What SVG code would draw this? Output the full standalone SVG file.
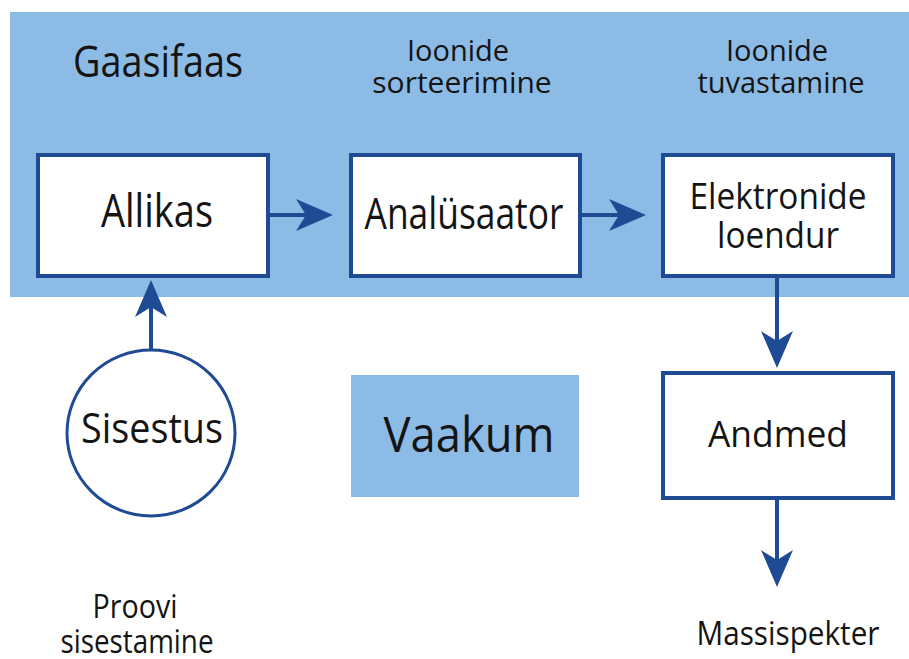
<svg xmlns="http://www.w3.org/2000/svg" width="909" height="659" viewBox="0 0 909 659">
<style>
.box{fill:#fff;stroke:#1f4a94;stroke-width:4}
.conn{fill:none;stroke:#1f4a94;stroke-width:4}
text{font-family:"Open Sans","Noto Sans","Liberation Sans",sans-serif;fill:#141414;text-anchor:middle}
.n{lengthAdjust:spacingAndGlyphs}
</style>
<defs>
<marker id="ah" viewBox="-40 -20 42 40" refX="-20" refY="0" markerWidth="42" markerHeight="40" markerUnits="userSpaceOnUse" orient="auto">
<path d="M0,0 L-37,-16 L-27,0 L-37,16 Z" fill="#1f4a94"/>
</marker>
</defs>
<rect width="909" height="659" fill="#fff"/>
<g id="gaasifaas">
<rect x="10" y="12" width="899" height="285" fill="#8cbbe6"/>
<text x="158" y="77" font-size="44" textLength="170" lengthAdjust="spacingAndGlyphs">Gaasifaas</text>
<text x="458" y="61" font-size="29">Ioonide</text>
<text x="462" y="93" font-size="30">sorteerimine</text>
<text x="777" y="61" font-size="29">Ioonide</text>
<text x="781" y="93" font-size="29">tuvastamine</text>
</g>
<g id="allikas">
<rect class="box" x="38" y="155" width="230" height="121"/>
<text x="157" y="227" font-size="45" textLength="112" lengthAdjust="spacingAndGlyphs">Allikas</text>
</g>
<g id="analusaator">
<rect class="box" x="351" y="155" width="229" height="121"/>
<text x="464" y="229" font-size="44" textLength="199" lengthAdjust="spacingAndGlyphs">Analüsaator</text>
</g>
<g id="elektronide">
<rect class="box" x="663" y="155" width="230" height="121"/>
<text x="778" y="209" font-size="36" textLength="177" lengthAdjust="spacingAndGlyphs">Elektronide</text>
<text x="778" y="248" font-size="36" textLength="122" lengthAdjust="spacingAndGlyphs">loendur</text>
</g>
<g id="sisestus">
<ellipse cx="151" cy="433" rx="84" ry="83" fill="#fff" stroke="#1f4a94" stroke-width="3"/>
<text x="152" y="443" font-size="42" textLength="142" lengthAdjust="spacingAndGlyphs">Sisestus</text>
</g>
<g id="vaakum">
<rect x="351" y="375" width="228" height="122" fill="#8cbbe6"/>
<text x="469" y="452" font-size="49" textLength="171" lengthAdjust="spacingAndGlyphs">Vaakum</text>
</g>
<g id="andmed">
<rect class="box" x="663" y="373" width="230" height="125"/>
<text x="778" y="447" font-size="37" textLength="140" lengthAdjust="spacingAndGlyphs">Andmed</text>
</g>
<g id="proovi">
<text x="135" y="618" font-size="32" textLength="85" lengthAdjust="spacingAndGlyphs">Proovi</text>
<text x="137" y="653" font-size="32" textLength="153" lengthAdjust="spacingAndGlyphs">sisestamine</text>
</g>
<g id="massispekter">
<text x="788" y="645" font-size="32" textLength="183" lengthAdjust="spacingAndGlyphs">Massispekter</text>
</g>
<g id="connectors">
<line class="conn" x1="270" y1="215" x2="313" y2="215" marker-end="url(#ah)"/>
<line class="conn" x1="582" y1="215" x2="626" y2="215" marker-end="url(#ah)"/>
<line class="conn" x1="777" y1="278" x2="777" y2="348" marker-end="url(#ah)"/>
<line class="conn" x1="777" y1="500" x2="777" y2="567" marker-end="url(#ah)"/>
<line class="conn" x1="151" y1="350" x2="151" y2="300" marker-end="url(#ah)"/>
</g>
</svg>
